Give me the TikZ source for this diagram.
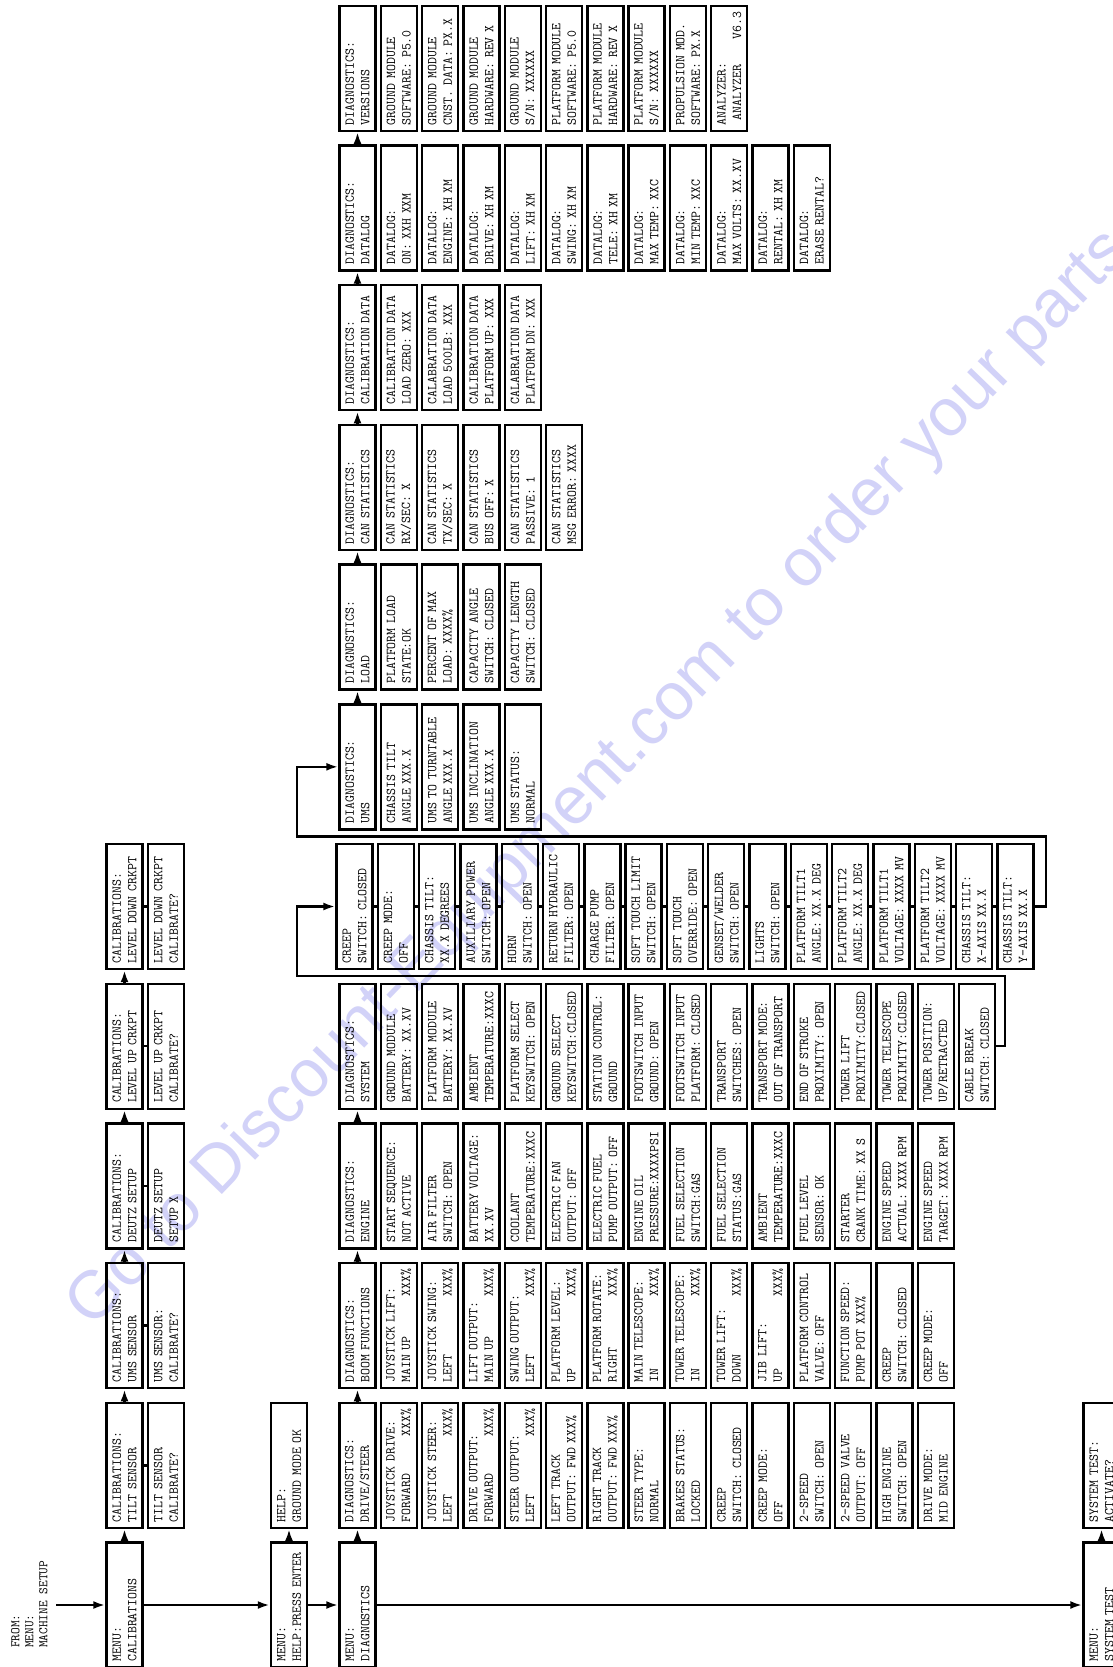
\documentclass[tikz,border=0pt]{standalone}
\usepackage{fontspec}
\newfontfamily\wmfam{Liberation Sans}
\usetikzlibrary{arrows.meta}
\definecolor{wmcol}{RGB}{210,210,248}
\newcommand\lcdfont{\fontsize{13.5}{15.5}\selectfont\ttfamily}
\newcommand\fromfont{\fontsize{13}{14}\selectfont\ttfamily}
\newcommand\wmfont{\fontsize{67}{70}\selectfont\wmfam}
\tikzset{
  lcdbox/.style={draw, line width=2.4pt, rotate=90, minimum width=125pt, minimum height=36pt,
    text width=113.4pt, align=left, inner sep=0pt, font=\lcdfont},
  conn/.style={line width=2.4pt},
  arr/.style={conn, -{Latex[length=12pt,width=8pt]}},
}
% item in a diagnostics row: name, index, y, line1, line2
\newcommand\ri[5]{\node[lcdbox] (#1) at ({357.5+41.3*(#2)},{#3}) {#4\\#5};}
% item in the wrapped system row (starts slightly left)
\newcommand\rw[5]{\node[lcdbox] (#1) at ({354.5+41.3*(#2)},{#3}) {#4\\#5};}
% free box: name, x, y, line1, line2
\newcommand\fb[5]{\node[lcdbox] (#1) at ({#2},{#3}) {#4\\#5};}
\begin{document}
\begin{tikzpicture}[x=1pt,y=-1pt]
\useasboundingbox (0,0) rectangle (1113,1667);
\clip (0,0) rectangle (1113,1667);
\fill[white] (0,0) rectangle (1113,1667);
% watermark
\node[rotate=46, anchor=base west, inner sep=0pt, text=wmcol, font=\wmfont] (wm) at (92,1330) {Go to Discount-Equipment.com to order your parts};

% from text
\node[rotate=90, anchor=north west, align=left, inner sep=0pt, font=\fromfont] (fromtxt) at (11,1648) {FROM:\\MENU:\\MACHINE SETUP};
\coordinate (fromend) at (56,1605);

% menu row
\fb{c0}{124.5}{1605}{MENU:}{CALIBRATIONS}
\fb{h0}{289}{1605}{MENU:}{HELP:PRESS ENTER}
\fb{md}{357.5}{1605}{MENU:}{DIAGNOSTICS}
\fb{ms}{1101.5}{1605}{MENU:}{SYSTEM TEST}

% calibrations
\fb{c1}{124.5}{1465.3}{CALIBRATIONS:}{TILT SENSOR}
\fb{c1s}{166}{1465.3}{TILT SENSOR}{CALIBRATE?}
\fb{c2}{124.5}{1325.6}{CALIBRATIONS:}{UMS SENSOR}
\fb{c2s}{166}{1325.6}{UMS SENSOR:}{CALIBRATE?}
\fb{c3}{124.5}{1185.9}{CALIBRATIONS:}{DEUTZ SETUP}
\fb{c3s}{166}{1185.9}{DEUTZ SETUP}{SETUP X}
\fb{c4}{124.5}{1046.2}{CALIBRATIONS:}{LEVEL UP CRKPT}
\fb{c4s}{166}{1046.2}{LEVEL UP CRKPT}{CALIBRATE?}
\fb{c5}{124.5}{906.5}{CALIBRATIONS:}{LEVEL DOWN CRKPT}
\fb{c5s}{166}{906.5}{LEVEL DOWN CRKPT}{CALIBRATE?}

% help
\fb{h1}{289}{1465.3}{HELP:}{GROUND MODE OK}
% system test
\fb{s1}{1101.5}{1465.3}{SYSTEM TEST:}{ACTIVATE?}

% R1 drive/steer
\ri{d1-0}{0}{1465.3}{DIAGNOSTICS:}{DRIVE/STEER}
\ri{d1-1}{1}{1465.3}{JOYSTICK DRIVE:}{FORWARD\hfill XXX\%}
\ri{d1-2}{2}{1465.3}{JOYSTICK STEER:}{LEFT\hfill XXX\%}
\ri{d1-3}{3}{1465.3}{DRIVE OUTPUT:}{FORWARD\hfill XXX\%}
\ri{d1-4}{4}{1465.3}{STEER OUTPUT:}{LEFT\hfill XXX\%}
\ri{d1-5}{5}{1465.3}{LEFT TRACK}{OUTPUT: FWD XXX\%}
\ri{d1-6}{6}{1465.3}{RIGHT TRACK}{OUTPUT: FWD XXX\%}
\ri{d1-7}{7}{1465.3}{STEER TYPE:}{NORMAL}
\ri{d1-8}{8}{1465.3}{BRAKES STATUS:}{LOCKED}
\ri{d1-9}{9}{1465.3}{CREEP}{SWITCH: CLOSED}
\ri{d1-10}{10}{1465.3}{CREEP MODE:}{OFF}
\ri{d1-11}{11}{1465.3}{2-SPEED}{SWITCH: OPEN}
\ri{d1-12}{12}{1465.3}{2-SPEED VALVE}{OUTPUT: OFF}
\ri{d1-13}{13}{1465.3}{HIGH ENGINE}{SWITCH: OPEN}
\ri{d1-14}{14}{1465.3}{DRIVE MODE:}{MID ENGINE}

% R2 boom functions
\ri{d2-0}{0}{1325.6}{DIAGNOSTICS:}{BOOM FUNCTIONS}
\ri{d2-1}{1}{1325.6}{JOYSTICK LIFT:}{MAIN UP\hfill XXX\%}
\ri{d2-2}{2}{1325.6}{JOYSTICK SWING:}{LEFT\hfill XXX\%}
\ri{d2-3}{3}{1325.6}{LIFT OUTPUT:}{MAIN UP\hfill XXX\%}
\ri{d2-4}{4}{1325.6}{SWING OUTPUT:}{LEFT\hfill XXX\%}
\ri{d2-5}{5}{1325.6}{PLATFORM LEVEL:}{UP\hfill XXX\%}
\ri{d2-6}{6}{1325.6}{PLATFORM ROTATE:}{RIGHT\hfill XXX\%}
\ri{d2-7}{7}{1325.6}{MAIN TELESCOPE:}{IN\hfill XXX\%}
\ri{d2-8}{8}{1325.6}{TOWER TELESCOPE:}{IN\hfill XXX\%}
\ri{d2-9}{9}{1325.6}{TOWER LIFT:}{DOWN\hfill XXX\%}
\ri{d2-10}{10}{1325.6}{JIB LIFT:}{UP\hfill XXX\%}
\ri{d2-11}{11}{1325.6}{PLATFORM CONTROL}{VALVE: OFF}
\ri{d2-12}{12}{1325.6}{FUNCTION SPEED:}{PUMP POT XXX\%}
\ri{d2-13}{13}{1325.6}{CREEP}{SWITCH: CLOSED}
\ri{d2-14}{14}{1325.6}{CREEP MODE:}{OFF}

% R3 engine
\ri{d3-0}{0}{1185.9}{DIAGNOSTICS:}{ENGINE}
\ri{d3-1}{1}{1185.9}{START SEQUENCE:}{NOT ACTIVE}
\ri{d3-2}{2}{1185.9}{AIR FILTER}{SWITCH: OPEN}
\ri{d3-3}{3}{1185.9}{BATTERY VOLTAGE:}{XX.XV}
\ri{d3-4}{4}{1185.9}{COOLANT}{TEMPERATURE:XXXC}
\ri{d3-5}{5}{1185.9}{ELECTRIC FAN}{OUTPUT: OFF}
\ri{d3-6}{6}{1185.9}{ELECTRIC FUEL}{PUMP OUTPUT: OFF}
\ri{d3-7}{7}{1185.9}{ENGINE OIL}{PRESSURE:XXXXPSI}
\ri{d3-8}{8}{1185.9}{FUEL SELECTION}{SWITCH:GAS}
\ri{d3-9}{9}{1185.9}{FUEL SELECTION}{STATUS:GAS}
\ri{d3-10}{10}{1185.9}{AMBIENT}{TEMPERATURE:XXXC}
\ri{d3-11}{11}{1185.9}{FUEL LEVEL}{SENSOR: OK}
\ri{d3-12}{12}{1185.9}{STARTER}{CRANK TIME: XX S}
\ri{d3-13}{13}{1185.9}{ENGINE SPEED}{ACTUAL: XXXX RPM}
\ri{d3-14}{14}{1185.9}{ENGINE SPEED}{TARGET: XXXX RPM}

% R4 system
\ri{d4-0}{0}{1046.2}{DIAGNOSTICS:}{SYSTEM}
\ri{d4-1}{1}{1046.2}{GROUND MODULE}{BATTERY: XX.XV}
\ri{d4-2}{2}{1046.2}{PLATFORM MODULE}{BATTERY: XX.XV}
\ri{d4-3}{3}{1046.2}{AMBIENT}{TEMPERATURE:XXXC}
\ri{d4-4}{4}{1046.2}{PLATFORM SELECT}{KEYSWITCH: OPEN}
\ri{d4-5}{5}{1046.2}{GROUND SELECT}{KEYSWITCH:CLOSED}
\ri{d4-6}{6}{1046.2}{STATION CONTROL:}{GROUND}
\ri{d4-7}{7}{1046.2}{FOOTSWITCH INPUT}{GROUND: OPEN}
\ri{d4-8}{8}{1046.2}{FOOTSWITCH INPUT}{PLATFORM: CLOSED}
\ri{d4-9}{9}{1046.2}{TRANSPORT}{SWITCHES: OPEN}
\ri{d4-10}{10}{1046.2}{TRANSPORT MODE:}{OUT OF TRANSPORT}
\ri{d4-11}{11}{1046.2}{END OF STROKE}{PROXIMITY: OPEN}
\ri{d4-12}{12}{1046.2}{TOWER LIFT}{PROXIMITY:CLOSED}
\ri{d4-13}{13}{1046.2}{TOWER TELESCOPE}{PROXIMITY:CLOSED}
\ri{d4-14}{14}{1046.2}{TOWER POSITION:}{UP/RETRACTED}
\ri{d4-15}{15}{1046.2}{CABLE BREAK}{SWITCH: CLOSED}

% R5 system continued
\rw{d5-1}{0}{906.5}{CREEP}{SWITCH: CLOSED}
\rw{d5-2}{1}{906.5}{CREEP MODE:}{OFF}
\rw{d5-3}{2}{906.5}{CHASSIS TILT:}{XX.X DEGREES}
\rw{d5-4}{3}{906.5}{AUXILIARY POWER}{SWITCH: OPEN}
\rw{d5-5}{4}{906.5}{HORN}{SWITCH: OPEN}
\rw{d5-6}{5}{906.5}{RETURN HYDRAULIC}{FILTER: OPEN}
\rw{d5-7}{6}{906.5}{CHARGE PUMP}{FILTER: OPEN}
\rw{d5-8}{7}{906.5}{SOFT TOUCH LIMIT}{SWITCH: OPEN}
\rw{d5-9}{8}{906.5}{SOFT TOUCH}{OVERRIDE: OPEN}
\rw{d5-10}{9}{906.5}{GENSET/WELDER}{SWITCH: OPEN}
\rw{d5-11}{10}{906.5}{LIGHTS}{SWITCH: OPEN}
\rw{d5-12}{11}{906.5}{PLATFORM TILT1}{ANGLE: XX.X DEG}
\rw{d5-13}{12}{906.5}{PLATFORM TILT2}{ANGLE: XX.X DEG}
\rw{d5-14}{13}{906.5}{PLATFORM TILT1}{VOLTAGE: XXXX MV}
\rw{d5-15}{14}{906.5}{PLATFORM TILT2}{VOLTAGE: XXXX MV}
\rw{d5-16}{15}{906.5}{CHASSIS TILT:}{X-AXIS XX.X}
\rw{d5-17}{16}{906.5}{CHASSIS TILT:}{Y-AXIS XX.X}

% R6 UMS
\ri{d6-0}{0}{766.8}{DIAGNOSTICS:}{UMS}
\ri{d6-1}{1}{766.8}{CHASSIS TILT}{ANGLE XXX.X}
\ri{d6-2}{2}{766.8}{UMS TO TURNTABLE}{ANGLE XXX.X}
\ri{d6-3}{3}{766.8}{UMS INCLINATION}{ANGLE XXX.X}
\ri{d6-4}{4}{766.8}{UMS STATUS:}{NORMAL}

% R7 load
\ri{d7-0}{0}{627.1}{DIAGNOSTICS:}{LOAD}
\ri{d7-1}{1}{627.1}{PLATFORM LOAD}{STATE:OK}
\ri{d7-2}{2}{627.1}{PERCENT OF MAX}{LOAD: XXXX\%}
\ri{d7-3}{3}{627.1}{CAPACITY ANGLE}{SWITCH: CLOSED}
\ri{d7-4}{4}{627.1}{CAPACITY LENGTH}{SWITCH: CLOSED}

% R8 can statistics
\ri{d8-0}{0}{487.4}{DIAGNOSTICS:}{CAN STATISTICS}
\ri{d8-1}{1}{487.4}{CAN STATISTICS}{RX/SEC: X}
\ri{d8-2}{2}{487.4}{CAN STATISTICS}{TX/SEC: X}
\ri{d8-3}{3}{487.4}{CAN STATISTICS}{BUS OFF: X}
\ri{d8-4}{4}{487.4}{CAN STATISTICS}{PASSIVE: 1}
\ri{d8-5}{5}{487.4}{CAN STATISTICS}{MSG ERROR: XXXX}

% R9 calibration data
\ri{d9-0}{0}{347.7}{DIAGNOSTICS:}{CALIBRATION DATA}
\ri{d9-1}{1}{347.7}{CALIBRATION DATA}{LOAD ZERO: XXX}
\ri{d9-2}{2}{347.7}{CALABRATION DATA}{LOAD 500LB: XXX}
\ri{d9-3}{3}{347.7}{CALIBRATION DATA}{PLATFORM UP: XXX}
\ri{d9-4}{4}{347.7}{CALABRATION DATA}{PLATFORM DN: XXX}

% R10 datalog
\ri{d10-0}{0}{208}{DIAGNOSTICS:}{DATALOG}
\ri{d10-1}{1}{208}{DATALOG:}{ON: XXH XXM}
\ri{d10-2}{2}{208}{DATALOG:}{ENGINE: XH XM}
\ri{d10-3}{3}{208}{DATALOG:}{DRIVE: XH XM}
\ri{d10-4}{4}{208}{DATALOG:}{LIFT: XH XM}
\ri{d10-5}{5}{208}{DATALOG:}{SWING: XH XM}
\ri{d10-6}{6}{208}{DATALOG:}{TELE: XH XM}
\ri{d10-7}{7}{208}{DATALOG:}{MAX TEMP: XXC}
\ri{d10-8}{8}{208}{DATALOG:}{MIN TEMP: XXC}
\ri{d10-9}{9}{208}{DATALOG:}{MAX VOLTS: XX.XV}
\ri{d10-10}{10}{208}{DATALOG:}{RENTAL: XH XM}
\ri{d10-11}{11}{208}{DATALOG:}{ERASE RENTAL?}

% R11 versions
\ri{d11-0}{0}{68.3}{DIAGNOSTICS:}{VERSIONS}
\ri{d11-1}{1}{68.3}{GROUND MODULE}{SOFTWARE: P5.0}
\ri{d11-2}{2}{68.3}{GROUND MODULE}{CNST. DATA: PX.X}
\ri{d11-3}{3}{68.3}{GROUND MODULE}{HARDWARE: REV X}
\ri{d11-4}{4}{68.3}{GROUND MODULE}{S/N: XXXXXX}
\ri{d11-5}{5}{68.3}{PLATFORM MODULE}{SOFTWARE: P5.0}
\ri{d11-6}{6}{68.3}{PLATFORM MODULE}{HARDWARE: REV X}
\ri{d11-7}{7}{68.3}{PLATFORM MODULE}{S/N: XXXXXX}
\ri{d11-8}{8}{68.3}{PROPULSION MOD.}{SOFTWARE: PX.X}
\ri{d11-9}{9}{68.3}{ANALYZER:}{~ANALYZER\hfill V6.3}

% main line
\draw[arr] (fromend) -- (c0);
\draw[arr] (c0) -- (h0);
\draw[arr] (h0) -- (md);
\draw[arr] (md) -- (ms);
% calibration chain
\draw[arr] (c0) -- (c1);
\foreach \a/\b in {c1/c2,c2/c3,c3/c4,c4/c5} \draw[arr] (\a) -- (\b);
\foreach \a in {c1,c2,c3,c4,c5} \draw[conn] (\a) -- (\a s);
\draw[arr] (h0) -- (h1);
\draw[arr] (ms) -- (s1);
% diagnostics verticals
\draw[arr] (md) -- (d1-0);
\draw[arr] (d1-0) -- (d2-0);
\draw[arr] (d2-0) -- (d3-0);
\draw[arr] (d3-0) -- (d4-0);
\foreach \a/\b in {6/7,7/8,8/9,9/10,10/11} \draw[arr] (d\a-0) -- (d\b-0);
% row chains
\foreach \r/\n in {1/13,2/13,3/13,4/14,6/3,7/3,8/4,9/3,10/10,11/8}
  \foreach \i [evaluate=\i as \j using int(\i+1)] in {0,...,\n}
    \draw[conn] (d\r-\i) -- (d\r-\j);
\foreach \i [evaluate=\i as \j using int(\i+1)] in {1,...,16}
  \draw[conn] (d5-\i) -- (d5-\j);
% wraps
\draw[arr] (d4-15) -| (1005,976) -- (297,976) |- (d5-1);
\draw[arr] (d5-17) -| (1046,836.6) -- (297,836.6) |- (d6-0);
\end{tikzpicture}
\end{document}
